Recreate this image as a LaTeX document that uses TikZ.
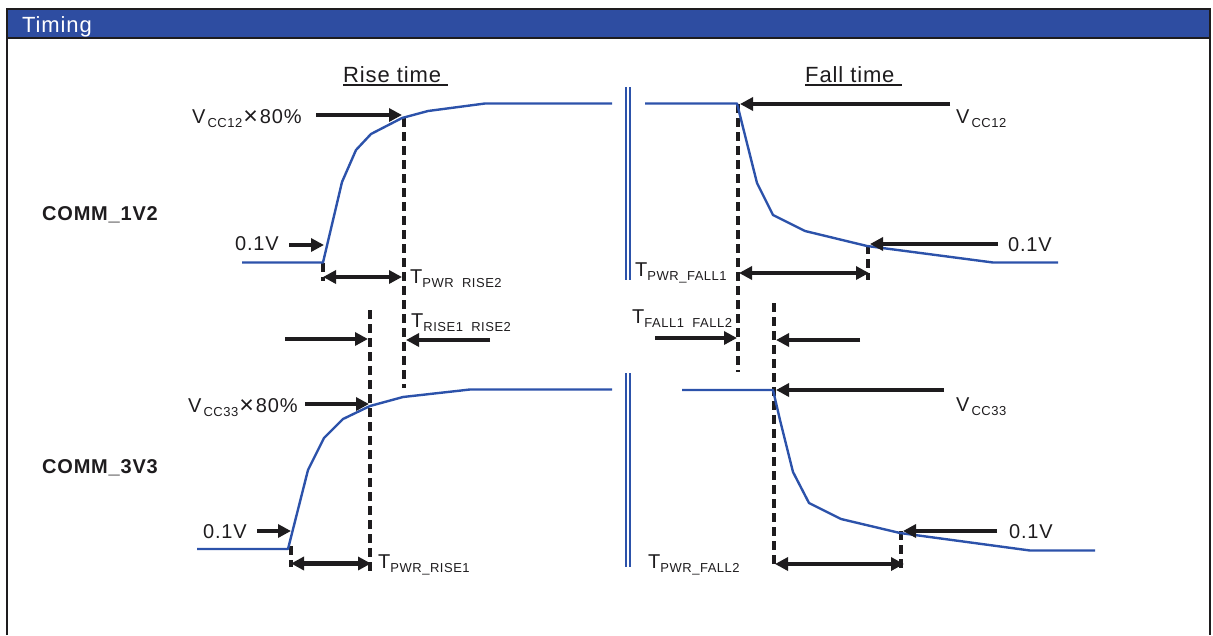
\documentclass[tikz,border=0pt]{standalone}
\usepackage{fontspec}
\setmainfont{Liberation Sans}[LetterSpace=4]
\usetikzlibrary{arrows.meta}
\definecolor{hdrblue}{RGB}{46,77,161}
\definecolor{sigblue}{RGB}{44,82,170}
\definecolor{ink}{RGB}{30,28,30}
\newcommand\lblsub[1]{\raisebox{-4.5pt}{\fontsize{13}{14}\selectfont #1}}
\newcommand\bigtimes{{\fontsize{25}{25}\selectfont\raisebox{-1pt}{×}}}
\tikzset{
  sig/.style={draw=sigblue, line width=2.4pt, line join=round},
  brk/.style={draw=sigblue, line width=1.9pt},
  vdash/.style={draw=ink, line width=3.4pt, dash pattern=on 9pt off 5pt},
  arr/.style={draw=ink, line width=4.8pt, -{Triangle[length=13pt,width=13pt]}},
  darr/.style={draw=ink, line width=4.8pt, {Triangle[length=13pt,width=13pt]}-{Triangle[length=13pt,width=13pt]}},
  lbl/.style={inner sep=0pt, anchor=base west, text=ink, font=\fontsize{20}{24}\selectfont},
  sect/.style={inner sep=0pt, anchor=base west, text=ink, font=\fontsize{22}{26}\selectfont},
  sigl/.style={inner sep=0pt, anchor=base west, text=ink, font=\fontsize{20}{24}\selectfont\bfseries},
}
\begin{document}
\begin{tikzpicture}[x=1pt,y=-1pt]
\useasboundingbox (0,0) rectangle (1213,635);
% frame and header
\fill[hdrblue] (7,9) rectangle (1210,38);
\draw[line width=2.6pt, ink] (7,635) -- (7,9) -- (1210,9) -- (1210,635);
\draw[line width=2pt, ink] (7,38) -- (1210,38);
\node[inner sep=0pt, anchor=base west, text=white, font=\fontsize{22}{26}\selectfont] (title) at (22,32) {Timing};

% section titles
\node[sect] (rise) at (343,82) {Rise time};
\draw[line width=2pt, ink] ([yshift=-2.5pt]rise.base west) -- ([xshift=7pt,yshift=-2.5pt]rise.base east);
\node[sect] (fall) at (805,82) {Fall time};
\draw[line width=2pt, ink] ([yshift=-2.5pt]fall.base west) -- ([xshift=7pt,yshift=-2.5pt]fall.base east);

\node[sigl] (c1) at (42,220) {COMM\_1V2};
\node[sigl] (c3) at (42,473) {COMM\_3V3};

% break marks
\draw[brk] (626,87) -- (626,280);
\draw[brk] (629.6,87) -- (629.6,280);
\draw[brk] (626,373) -- (626,567);
\draw[brk] (629.6,373) -- (629.6,567);

% dashed markers
\draw[vdash] (404,118) -- (404,388);
\draw[vdash] (370,310) -- (370,574);
\draw[vdash] (738,104) -- (738,372);
\draw[vdash] (774,303) -- (774,568);
\draw[vdash] (323,263) -- (323,281);
\draw[vdash] (868,245) -- (868,280);
\draw[vdash] (291,546) -- (291,567);
\draw[vdash] (901,531) -- (901,568);

% signals
\draw[sig] (242,262.5) -- (323,262.5) -- (342,182) -- (356,150) -- (371,134) -- (402,118) -- (428,111) -- (485,103.5) -- (612,103.5);
\draw[sig] (645,103.5) -- (737,103.5) -- (757,183) -- (773,215) -- (805,231) -- (867,246) -- (993,262.5) -- (1058,262.5);
\draw[sig] (197,549) -- (288,549) -- (308,470) -- (324,438) -- (343,419) -- (370,406) -- (403,397) -- (470,389.5) -- (612,389.5);
\draw[sig] (682,390) -- (773,390) -- (780,420) -- (793,472) -- (809,503) -- (841,519) -- (900,533) -- (1030,550.5) -- (1095,550.5);

% arrow end points
\coordinate (a1s) at (316,115);  \coordinate (a1e) at (402,115);
\coordinate (a2s) at (289,245);  \coordinate (a2e) at (324,245);
\coordinate (a3s) at (323,277);  \coordinate (a3e) at (402,277);
\coordinate (a4s) at (285,339);  \coordinate (a4e) at (368,339);
\coordinate (a5s) at (490,340);  \coordinate (a5e) at (406,340);
\coordinate (a6s) at (305,404);  \coordinate (a6e) at (369,404);
\coordinate (a7s) at (257,531);  \coordinate (a7e) at (291,531);
\coordinate (a8s) at (291,563.5);\coordinate (a8e) at (371,563.5);
\coordinate (b1s) at (950,104);  \coordinate (b1e) at (740,104);
\coordinate (b2s) at (998,244);  \coordinate (b2e) at (870,244);
\coordinate (b3s) at (739,273);  \coordinate (b3e) at (869,273);
\coordinate (b4s) at (655,338);  \coordinate (b4e) at (737,338);
\coordinate (b5s) at (860,340);  \coordinate (b5e) at (776,340);
\coordinate (b6s) at (944,390);  \coordinate (b6e) at (776,390);
\coordinate (b7s) at (997,531);  \coordinate (b7e) at (903,531);
\coordinate (b8s) at (775,564);  \coordinate (b8e) at (904,564);

\draw[arr] (a1s) -- (a1e);
\draw[arr] (a2s) -- (a2e);
\draw[darr] (a3s) -- (a3e);
\draw[arr] (a4s) -- (a4e);
\draw[arr] (a5s) -- (a5e);
\draw[arr] (a6s) -- (a6e);
\draw[arr] (a7s) -- (a7e);
\draw[darr] (a8s) -- (a8e);
\draw[arr] (b1s) -- (b1e);
\draw[arr] (b2s) -- (b2e);
\draw[darr] (b3s) -- (b3e);
\draw[arr] (b4s) -- (b4e);
\draw[arr] (b5s) -- (b5e);
\draw[arr] (b6s) -- (b6e);
\draw[arr] (b7s) -- (b7e);
\draw[darr] (b8s) -- (b8e);

% labels
\node[lbl] (l1) at (192,123) {V\hspace{2pt}\lblsub{CC12}\hspace{1pt}\bigtimes\hspace{2pt}80\%};
\node[lbl] (l2) at (235,250) {0.1V};
\node[lbl] (l3) at (410,283) {T\lblsub{PWR\ \ RISE2}};
\node[lbl] (l4) at (411,327) {T\lblsub{RISE1\ \ RISE2}};
\node[lbl] (l5) at (188,412) {V\hspace{2pt}\lblsub{CC33}\hspace{1pt}\bigtimes\hspace{2pt}80\%};
\node[lbl] (l6) at (203,538) {0.1V};
\node[lbl] (l7) at (378,568) {T\lblsub{PWR\_RISE1}};
\node[lbl] (r1) at (956,123) {V\hspace{2pt}\lblsub{CC12}};
\node[lbl] (r2) at (1008,251) {0.1V};
\node[lbl] (r3) at (635,276) {T\lblsub{PWR\_FALL1}};
\node[lbl] (r4) at (632,323) {T\lblsub{FALL1\ \ FALL2}};
\node[lbl] (r5) at (956,411) {V\hspace{2pt}\lblsub{CC33}};
\node[lbl] (r6) at (1009,538) {0.1V};
\node[lbl] (r7) at (648,568) {T\lblsub{PWR\_FALL2}};
\end{tikzpicture}
\end{document}
